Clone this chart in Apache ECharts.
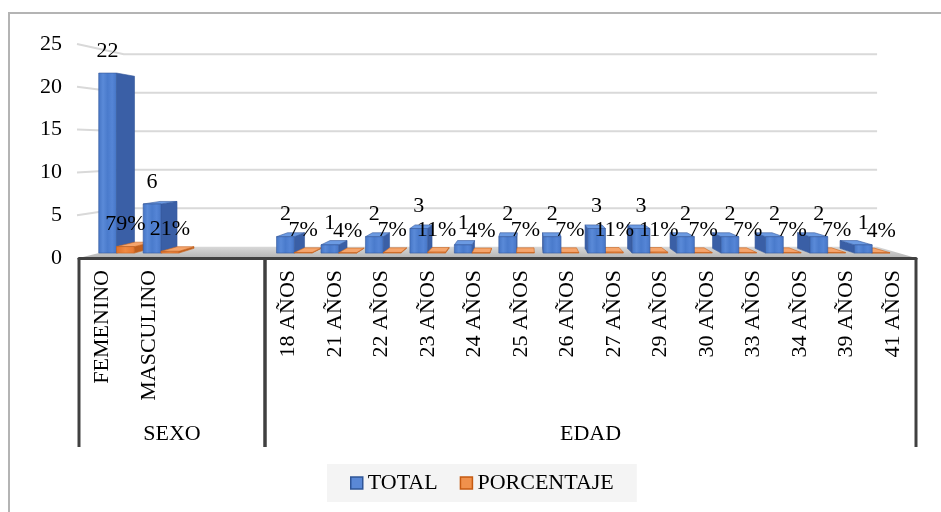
<!DOCTYPE html>
<html>
<head>
<meta charset="utf-8">
<script src="https://cdn.jsdelivr.net/npm/echarts@6/dist/echarts.min.js"></script>
<style>
  html, body { margin: 0; padding: 0; background: #ffffff; }
  #chart { width: 941px; height: 512px; }
</style>
</head>
<body>
<div id="chart"></div>
<script>
// Categorías del eje (dos filas vacías completan el grupo SEXO)
const categorias = ['FEMENINO', 'MASCULINO', '', '',
  '18 AÑOS', '21 AÑOS', '22 AÑOS', '23 AÑOS', '24 AÑOS', '25 AÑOS', '26 AÑOS',
  '27 AÑOS', '29 AÑOS', '30 AÑOS', '33 AÑOS', '34 AÑOS', '39 AÑOS', '41 AÑOS'];

// Serie TOTAL (número de personas)
const total = [22, 6, null, null, 2, 1, 2, 3, 1, 2, 2, 3, 3, 2, 2, 2, 2, 1];

// Serie PORCENTAJE (fracción del total)
const porcentaje = [0.79, 0.21, null, null, 0.07, 0.04, 0.07, 0.11, 0.04, 0.07,
  0.07, 0.11, 0.11, 0.07, 0.07, 0.07, 0.07, 0.04];

// Grupos del eje de categorías: [nombre, primer índice, último índice]
const grupos = [['SEXO', 0, 3], ['EDAD', 4, 17]];

// Marcas del eje de valores
const marcasEje = [0, 5, 10, 15, 20, 25];

const FUENTE = '"Liberation Serif", "Times New Roman", serif';

// Vista en perspectiva: punto de fuga y profundidades relativas
const VISTA = { fx: 527, fy: 146, fondo: 0.9, barraFrente: 0.956, barraFondo: 0.914 };
function proyectar(p, k) {
  return [VISTA.fx + (p[0] - VISTA.fx) * k, VISTA.fy + (p[1] - VISTA.fy) * k];
}

function poligono(puntos, relleno, z2, borde) {
  return {
    type: 'polygon',
    shape: { points: puntos },
    style: { fill: relleno, stroke: borde, lineWidth: 0.6 },
    z2: z2
  };
}

// Columna 3D: cara frontal, cara lateral y tapa, más su etiqueta
function columna3d(colores, desde, hasta, formato) {
  return function (params, api) {
    const i = api.value(0);
    const v = api.value(1);
    const tope = api.coord([i, v]);
    const base = api.coord([i, 0]);
    const bw = api.size([1, 0])[0];
    const x0 = tope[0] - bw / 2 + desde * bw;
    const x1 = tope[0] - bw / 2 + hasta * bw;
    const yT = tope[1], yB = base[1];
    const kf = VISTA.barraFrente, kb = VISTA.barraFondo;
    const F = {
      lt: proyectar([x0, yT], kf), rt: proyectar([x1, yT], kf),
      rb: proyectar([x1, yB], kf), lb: proyectar([x0, yB], kf)
    };
    const B = {
      lt: proyectar([x0, yT], kb), rt: proyectar([x1, yT], kb),
      rb: proyectar([x1, yB], kb), lb: proyectar([x0, yB], kb)
    };
    const cx = (F.lt[0] + F.rt[0]) / 2;
    const orden = 1000 - Math.abs(cx - VISTA.fx);
    const hijos = [];
    if (F.rt[0] < VISTA.fx) {
      hijos.push(poligono([F.rt, B.rt, B.rb, F.rb], colores.lado, orden * 2, colores.borde));
    }
    if (F.lt[0] > VISTA.fx) {
      hijos.push(poligono([F.lt, B.lt, B.lb, F.lb], colores.lado, orden * 2, colores.borde));
    }
    if (F.lt[1] > VISTA.fy) {
      hijos.push(poligono([F.lt, F.rt, B.rt, B.lt], colores.tapa, orden * 2, colores.borde));
    }
    hijos.push({
      type: 'rect',
      shape: { x: F.lt[0], y: F.lt[1], width: F.rt[0] - F.lt[0], height: F.lb[1] - F.lt[1] },
      style: {
        fill: {
          type: 'linear', x: 0, y: 0, x2: 1, y2: 0,
          colorStops: colores.frente.map((c, n) => ({ offset: n / (colores.frente.length - 1), color: c }))
        },
        stroke: colores.borde, lineWidth: 0.6
      },
      z2: orden * 2 + 1
    });
    hijos.push({
      type: 'text',
      x: cx, y: F.lt[1] - 22,
      style: {
        text: formato(v), font: '22px ' + FUENTE, fill: '#000000',
        align: 'center', verticalAlign: 'middle'
      },
      z2: 10000
    });
    return { type: 'group', children: hijos };
  };
}

const datosTotal = total.map((v, i) => v == null ? null : [i, v]).filter(Boolean);
const datosPorcentaje = porcentaje.map((v, i) => v == null ? null : [i, v]).filter(Boolean);

const chart = echarts.init(document.getElementById('chart'), null, { renderer: 'canvas' });

chart.setOption({
  backgroundColor: '#ffffff',
  animation: false,
  graphic: [{
    type: 'rect',
    shape: { x: 9, y: 13, width: 1000, height: 600 },
    style: { fill: 'none', stroke: '#b4b4b4', lineWidth: 2 },
    silent: true
  }],
  grid: { left: 79, right: 25, top: 44, bottom: 254 },
  legend: {
    left: 327, top: 464,
    padding: [8, 23, 8, 23],
    backgroundColor: '#f4f4f4',
    icon: 'rect',
    itemWidth: 12, itemHeight: 12, itemGap: 22,
    textStyle: { fontFamily: FUENTE, fontSize: 22, color: '#000000' },
    data: [
      { name: 'TOTAL', itemStyle: { color: '#5a88d6', borderColor: '#2f5597', borderWidth: 1.5 } },
      { name: 'PORCENTAJE', itemStyle: { color: '#f0914c', borderColor: '#c55a11', borderWidth: 1.5 } }
    ]
  },
  xAxis: {
    type: 'category',
    data: categorias,
    boundaryGap: true,
    z: 10,
    axisLine: { show: true, lineStyle: { color: '#404040', width: 3 } },
    axisTick: { show: false },
    axisLabel: {
      rotate: 90, interval: 0, margin: 12,
      fontFamily: FUENTE, fontSize: 22, color: '#000000'
    },
    splitLine: { show: false }
  },
  yAxis: {
    type: 'value',
    min: 0, max: 25, interval: 5,
    axisLine: { show: false },
    axisTick: { show: false },
    axisLabel: { margin: 17, fontFamily: FUENTE, fontSize: 22, color: '#000000' },
    splitLine: { show: false }
  },
  series: [
    {
      // Líneas de división sobre la pared del fondo y su tramo lateral
      name: 'rejilla',
      type: 'custom',
      silent: true,
      clip: false,
      data: marcasEje.filter(v => v > 0).map(v => [0, v]),
      renderItem: function (params, api) {
        const cs = params.coordSys;
        const y = api.coord([0, api.value(1)])[1];
        const a = [cs.x - 2, y];
        const b = proyectar([cs.x, y], VISTA.fondo);
        const c = proyectar([cs.x + cs.width, y], VISTA.fondo);
        return {
          type: 'polyline',
          shape: { points: [a, b, c] },
          style: { stroke: '#d9d9d9', lineWidth: 2, fill: null },
          z2: -100
        };
      }
    },
    {
      // Piso del gráfico
      name: 'piso',
      type: 'custom',
      silent: true,
      clip: false,
      data: [[0, 0]],
      renderItem: function (params, api) {
        const cs = params.coordSys;
        const y = api.coord([0, 0])[1];
        const fl = [cs.x, y], fr = [cs.x + cs.width, y];
        const bl = proyectar(fl, VISTA.fondo), br = proyectar(fr, VISTA.fondo);
        return {
          type: 'polygon',
          shape: { points: [fl, bl, br, fr] },
          style: {
            fill: {
              type: 'linear', x: 0, y: 0, x2: 0, y2: 1,
              colorStops: [{ offset: 0, color: '#d8d8d8' }, { offset: 1, color: '#b4b4b4' }]
            }
          },
          z2: -50
        };
      }
    },
    {
      // Separadores y títulos de los grupos de categorías
      name: 'grupos',
      type: 'custom',
      silent: true,
      clip: false,
      data: grupos.map(g => [g[1], g[2], g[0]]),
      renderItem: function (params, api) {
        const bw = api.size([1, 0])[0];
        const a = api.coord([api.value(0), 0]);
        const b = api.coord([api.value(1), 0]);
        const xa = a[0] - bw / 2, xb = b[0] + bw / 2;
        const y0 = a[1];
        const linea = x => ({
          type: 'line',
          shape: { x1: x, y1: y0, x2: x, y2: y0 + 189 },
          style: { stroke: '#404040', lineWidth: 3 }
        });
        return {
          type: 'group',
          children: [
            linea(xa), linea(xb),
            {
              type: 'text',
              x: (xa + xb) / 2, y: y0 + 176,
              style: {
                text: api.value(2), font: '22px ' + FUENTE, fill: '#000000',
                align: 'center', verticalAlign: 'middle'
              }
            }
          ]
        };
      }
    },
    {
      name: 'TOTAL',
      type: 'custom',
      clip: false,
      itemStyle: { color: '#4472c4' },
      data: datosTotal,
      renderItem: columna3d({
        frente: ['#4474c4', '#5a8ad8', '#4a7bcc', '#5585d6', '#4575c6'],
        lado: '#3a5fa6',
        tapa: '#6b9ae2',
        borde: '#35599c'
      }, 0.0, 0.4, v => String(v))
    },
    {
      name: 'PORCENTAJE',
      type: 'custom',
      clip: false,
      itemStyle: { color: '#ed7d31' },
      data: datosPorcentaje,
      renderItem: columna3d({
        frente: ['#e0702a', '#f08a42', '#e57631'],
        lado: '#c0601f',
        tapa: '#f5a56c',
        borde: '#c86420'
      }, 0.4, 0.8, v => Math.round(v * 100) + '%')
    }
  ]
});
</script>
</body>
</html>
